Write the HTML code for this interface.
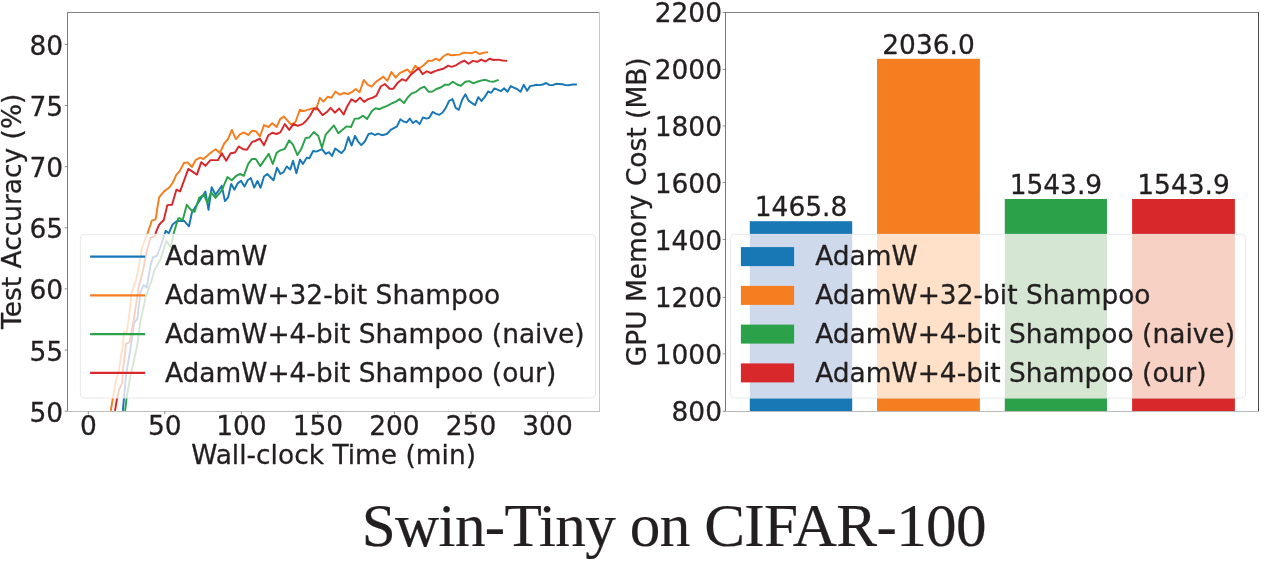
<!DOCTYPE html>
<html><head><meta charset="utf-8"><title>Swin-Tiny on CIFAR-100</title>
<style>
html,body{margin:0;padding:0;background:#fff;}
body{width:1269px;height:563px;overflow:hidden;}
svg{display:block;}
text{font-family:"DejaVu Sans","Liberation Sans",sans-serif;fill:#231f20;stroke:#231f20;stroke-width:0.3px;stroke-linejoin:round;}
.tk{font-size:26.45px;}
.lg{font-size:26.45px;}
.ttl{font-family:"Liberation Serif",serif;font-size:61.2px;fill:#231f20;stroke-width:0.2px;}
</style></head><body>
<svg width="1269" height="563" viewBox="0 0 1269 563">
<rect width="1269" height="563" fill="#fff"/>

<defs><clipPath id="c1"><rect x="67.7" y="12.4" width="531.8" height="398.8"/></clipPath></defs>
<g clip-path="url(#c1)" fill="none" stroke-width="1.95" stroke-linejoin="round" stroke-linecap="butt">
<path d="M122.8,410.8 L124.0,398.0 L125.9,376.5 L131.0,345.0 L134.1,322.9 L137.3,319.1 L140.4,292.6 L143.6,285.0 L146.7,287.6 L150.5,265.4 L153.0,257.2 L156.8,256.0 L160.6,246.5 L165.7,230.8 L168.8,233.3 L172.6,224.5 L177.0,221.1 L183.9,220.7 L189.0,226.3 L192.1,211.8 L197.2,204.2 L201.0,198.5 L205.4,191.6 L208.5,209.9 L211.7,187.2 L215.5,194.8 L221.8,185.9 L224.9,201.1 L228.1,197.3 L231.2,184.0 L231.3,184.0 L234.4,189.7 L237.6,183.4 L241.1,180.9 L244.5,186.6 L247.7,180.3 L250.8,178.0 L254.2,187.6 L257.5,180.9 L260.6,187.8 L264.0,176.5 L267.2,174.0 L273.5,180.3 L277.0,167.7 L280.4,174.0 L283.6,172.1 L286.7,166.4 L290.3,169.5 L293.0,160.7 L296.4,173.3 L300.0,159.5 L302.9,163.9 L306.9,157.6 L309.4,158.2 L313.1,151.0 L316.3,151.6 L322.0,149.1 L325.7,153.9 L328.9,152.2 L332.0,156.0 L335.2,148.5 L341.5,153.1 L344.6,149.7 L348.4,137.1 L351.6,145.6 L355.0,135.8 L357.9,141.3 L361.3,145.1 L364.8,141.5 L368.6,134.0 L371.8,133.3 L374.9,135.0 L378.1,133.7 L381.8,135.2 L386.9,134.0 L390.7,129.9 L397.0,126.4 L400.3,119.3 L403.5,121.5 L406.6,122.4 L409.8,118.6 L412.9,123.0 L416.1,120.8 L419.6,124.1 L423.0,117.4 L426.2,118.6 L429.3,117.7 L432.6,111.9 L435.8,113.6 L439.2,114.8 L442.4,112.7 L445.8,107.9 L449.0,101.0 L452.5,99.1 L455.7,107.9 L458.8,109.8 L462.2,99.7 L465.4,94.3 L468.5,100.6 L471.7,102.9 L475.1,105.1 L478.3,97.2 L481.4,101.0 L484.6,97.2 L488.1,91.5 L491.2,92.8 L494.4,88.4 L497.5,89.6 L500.9,91.2 L504.1,88.3 L507.5,91.8 L510.7,86.1 L513.8,87.7 L517.0,89.0 L520.5,91.8 L523.7,84.8 L527.1,90.8 L530.2,86.1 L533.4,85.5 L536.5,84.8 L539.7,85.1 L542.8,84.5 L546.2,83.0 L549.5,85.1 L552.9,85.1 L556.1,83.8 L559.2,84.0 L562.4,84.2 L565.5,85.1 L568.7,85.2 L572.5,84.5 L576.9,84.5" stroke="#1878b6"/>
<path d="M110.8,410.8 L112.9,398.0 L115.8,381.6 L119.0,369.0 L123.0,345.0 L123.8,332.3 L126.6,332.3 L129.1,316.6 L131.6,292.6 L136.0,280.0 L138.5,268.0 L142.3,246.5 L147.4,233.9 L151.8,220.7 L155.6,219.4 L159.1,197.3 L163.8,191.6 L168.8,187.8 L172.6,183.0 L176.4,174.6 L179.5,171.4 L183.9,163.0 L187.7,162.4 L191.9,167.0 L195.9,159.8 L200.1,157.6 L203.5,159.1 L211.0,152.5 L215.7,149.2 L219.8,153.0 L224.2,143.5 L228.0,139.1 L231.8,129.9 L235.9,139.1 L240.0,134.3 L243.8,132.4 L248.2,135.0 L252.0,130.8 L255.8,131.2 L259.9,136.5 L264.0,125.1 L268.4,127.0 L272.2,123.2 L276.6,127.0 L280.3,118.8 L283.9,116.6 L291.1,124.5 L295.5,122.0 L299.8,109.8 L303.9,111.1 L308.9,109.4 L313.3,108.2 L315.8,109.8 L319.9,97.8 L323.4,101.6 L327.6,96.8 L331.6,97.8 L335.4,91.5 L339.8,94.7 L344.0,93.0 L348.0,94.0 L351.8,92.2 L355.6,89.0 L359.6,92.2 L363.8,79.9 L367.5,84.6 L371.7,86.7 L375.7,82.1 L383.3,76.6 L387.3,80.8 L391.5,72.0 L395.7,77.7 L399.7,73.2 L407.3,69.5 L411.0,73.2 L415.2,65.7 L418.6,68.8 L423.0,65.7 L428.7,60.6 L431.9,60.9 L435.7,58.7 L439.5,60.5 L443.2,56.5 L447.4,54.0 L451.4,55.2 L459.6,54.6 L463.4,52.7 L467.8,52.9 L471.6,53.3 L475.4,51.7 L479.4,54.0 L483.6,52.7 L488.0,52.1" stroke="#f57e20"/>
<path d="M125.1,410.8 L126.6,398.0 L130.3,376.5 L137.3,345.0 L140.4,321.6 L145.5,297.7 L151.8,280.0 L154.3,270.5 L160.6,259.1 L166.3,240.8 L170.7,247.8 L173.8,232.7 L178.3,218.2 L179.1,218.1 L182.7,220.0 L186.8,204.8 L190.9,209.9 L194.6,211.8 L199.1,197.9 L204.1,194.8 L207.3,203.0 L211.0,192.2 L215.5,197.9 L221.8,190.3 L227.4,177.1 L231.8,180.3 L236.3,175.8 L240.0,174.0 L243.8,175.8 L248.2,163.9 L252.0,158.9 L255.8,158.9 L260.2,166.1 L268.7,153.9 L272.8,164.0 L276.6,152.9 L280.3,150.3 L284.8,148.8 L289.2,140.3 L293.0,144.7 L297.4,155.1 L301.2,149.1 L305.6,138.0 L309.3,137.5 L313.8,132.1 L318.2,135.8 L322.0,147.8 L325.7,134.6 L333.9,125.4 L338.3,133.3 L346.5,126.4 L351.0,127.0 L354.7,118.6 L358.5,118.6 L362.9,115.7 L367.1,119.1 L371.8,111.3 L375.5,108.2 L379.5,109.2 L383.3,107.3 L387.7,105.6 L391.5,103.5 L395.7,101.6 L399.7,99.1 L403.9,103.1 L407.9,97.2 L411.7,93.4 L416.1,91.8 L419.9,88.7 L424.3,86.7 L428.7,91.8 L432.5,91.5 L436.3,89.0 L440.7,87.5 L445.1,84.6 L448.9,84.8 L452.9,81.7 L457.1,84.5 L460.9,85.7 L465.3,81.7 L469.1,81.1 L473.5,83.3 L477.3,81.7 L481.7,80.4 L485.5,79.8 L489.9,81.4 L493.7,81.7 L498.7,79.8" stroke="#2ba24a"/>
<path d="M115.0,410.8 L117.1,398.0 L119.3,389.1 L122.2,382.8 L123.0,370.2 L125.9,345.0 L125.9,343.7 L129.7,342.4 L133.5,321.6 L137.3,296.4 L138.5,287.6 L143.0,270.5 L146.7,251.6 L150.5,237.7 L154.9,236.4 L156.2,231.4 L159.3,224.5 L163.8,220.0 L167.3,205.1 L172.0,204.8 L176.4,189.7 L180.1,191.4 L188.3,168.9 L196.9,174.6 L201.3,162.2 L205.4,165.8 L210.4,160.1 L218.0,160.1 L221.8,153.2 L226.2,160.7 L230.6,153.2 L235.0,152.5 L238.7,146.4 L243.1,149.2 L246.9,149.8 L251.9,142.2 L255.1,141.0 L259.9,138.7 L264.0,145.1 L268.4,135.2 L272.2,132.7 L276.6,134.0 L280.3,132.4 L284.8,124.1 L289.2,129.9 L293.6,123.9 L297.6,125.9 L302.6,124.1 L306.4,120.5 L310.2,115.5 L314.0,108.5 L317.1,108.2 L322.5,115.1 L326.6,112.3 L330.6,107.9 L334.8,112.7 L339.2,108.5 L343.6,114.5 L347.4,106.0 L351.5,99.3 L355.6,101.9 L360.0,97.6 L364.1,101.9 L368.2,99.1 L372.6,97.8 L376.4,95.6 L380.8,86.5 L384.8,84.0 L389.6,88.7 L393.4,88.7 L397.8,82.7 L402.0,79.2 L406.0,80.8 L410.4,75.1 L418.6,68.2 L422.6,74.1 L426.8,71.3 L431.0,73.0 L435.0,71.1 L439.4,69.8 L443.2,68.8 L448.2,65.7 L451.4,66.8 L455.8,65.3 L460.3,62.5 L464.3,60.6 L468.5,63.8 L472.9,60.9 L477.3,61.8 L481.1,59.6 L485.5,61.5 L489.5,58.7 L493.7,60.0 L498.1,59.6 L502.5,60.5 L507.2,60.9" stroke="#d8282b"/>
</g>
<rect x="67" y="12" width="533" height="1" fill="#828282"/><rect x="67" y="12" width="1" height="400" fill="#808080"/><rect x="599" y="12" width="1" height="400" fill="#c8c8c8"/><rect x="67" y="411" width="533" height="1" fill="#bebebe"/>
<line x1="64.7" x2="67.2" y1="411.2" y2="411.2" stroke="#444" stroke-width="0.6"/>
<text class="tk" x="63.2" y="421.6" text-anchor="end">50</text>
<line x1="64.7" x2="67.2" y1="350.1" y2="350.1" stroke="#444" stroke-width="0.6"/>
<text class="tk" x="63.2" y="360.5" text-anchor="end">55</text>
<line x1="64.7" x2="67.2" y1="288.9" y2="288.9" stroke="#444" stroke-width="0.6"/>
<text class="tk" x="63.2" y="299.3" text-anchor="end">60</text>
<line x1="64.7" x2="67.2" y1="227.8" y2="227.8" stroke="#444" stroke-width="0.6"/>
<text class="tk" x="63.2" y="238.2" text-anchor="end">65</text>
<line x1="64.7" x2="67.2" y1="166.7" y2="166.7" stroke="#444" stroke-width="0.6"/>
<text class="tk" x="63.2" y="177.1" text-anchor="end">70</text>
<line x1="64.7" x2="67.2" y1="105.5" y2="105.5" stroke="#444" stroke-width="0.6"/>
<text class="tk" x="63.2" y="115.9" text-anchor="end">75</text>
<line x1="64.7" x2="67.2" y1="44.4" y2="44.4" stroke="#444" stroke-width="0.6"/>
<text class="tk" x="63.2" y="54.8" text-anchor="end">80</text>
<line x1="88.3" x2="88.3" y1="411.7" y2="414.0" stroke="#333" stroke-width="0.6"/>
<text class="tk" x="88.3" y="435.45" text-anchor="middle">0</text>
<line x1="164.8" x2="164.8" y1="411.7" y2="414.0" stroke="#333" stroke-width="0.6"/>
<text class="tk" x="164.8" y="435.45" text-anchor="middle">50</text>
<line x1="241.4" x2="241.4" y1="411.7" y2="414.0" stroke="#333" stroke-width="0.6"/>
<text class="tk" x="241.4" y="435.45" text-anchor="middle">100</text>
<line x1="317.9" x2="317.9" y1="411.7" y2="414.0" stroke="#333" stroke-width="0.6"/>
<text class="tk" x="317.9" y="435.45" text-anchor="middle">150</text>
<line x1="394.4" x2="394.4" y1="411.7" y2="414.0" stroke="#333" stroke-width="0.6"/>
<text class="tk" x="394.4" y="435.45" text-anchor="middle">200</text>
<line x1="471.0" x2="471.0" y1="411.7" y2="414.0" stroke="#333" stroke-width="0.6"/>
<text class="tk" x="471.0" y="435.45" text-anchor="middle">250</text>
<line x1="547.5" x2="547.5" y1="411.7" y2="414.0" stroke="#333" stroke-width="0.6"/>
<text class="tk" x="547.5" y="435.45" text-anchor="middle">300</text>
<text class="tk" x="333.6" y="464.0" text-anchor="middle">Wall-clock Time (min)</text>
<text class="tk" transform="translate(20.9,211.3) rotate(-90)" text-anchor="middle">Test Accuracy (%)</text>
<clipPath id="lcline"><rect x="80.3" y="234.4" width="515.2" height="163.6" rx="4" ry="4"/></clipPath>
<rect x="80.3" y="234.4" width="515.2" height="163.6" rx="4" ry="4" fill="#fff" stroke="#e6e9e9" stroke-width="1"/>
<g clip-path="url(#lcline)"><g fill="none" stroke-width="1.9" stroke-linejoin="round"><path d="M122.8,410.8 L124.0,398.0 L125.9,376.5 L131.0,345.0 L134.1,322.9 L137.3,319.1 L140.4,292.6 L143.6,285.0 L146.7,287.6 L150.5,265.4 L153.0,257.2 L156.8,256.0 L160.6,246.5 L165.7,230.8 L168.8,233.3 L189.0,226.3" stroke="#cfd9ec"/><path d="M110.8,410.8 L112.9,398.0 L115.8,381.6 L119.0,369.0 L123.0,345.0 L123.8,332.3 L126.6,332.3 L129.1,316.6 L131.6,292.6 L136.0,280.0 L138.5,268.0 L142.3,246.5 L147.4,233.9" stroke="#ffe1c9"/><path d="M125.1,410.8 L126.6,398.0 L130.3,376.5 L137.3,345.0 L140.4,321.6 L145.5,297.7 L151.8,280.0 L154.3,270.5 L160.6,259.1 L166.3,240.8 L170.7,247.8 L173.8,232.7" stroke="#d5e7d3"/><path d="M115.0,410.8 L117.1,398.0 L119.3,389.1 L122.2,382.8 L123.0,370.2 L125.9,345.0 L125.9,343.7 L129.7,342.4 L133.5,321.6 L137.3,296.4 L138.5,287.6 L143.0,270.5 L146.7,251.6 L150.5,237.7 L154.9,236.4 L156.2,231.4" stroke="#f6d1c4"/></g></g>
<line x1="90.1" x2="145.1" y1="256.6" y2="256.6" stroke="#1878b6" stroke-width="2.15"/>
<text class="lg" x="164.9" y="265.4">AdamW</text>
<line x1="90.1" x2="145.1" y1="295.4" y2="295.4" stroke="#f57e20" stroke-width="2.15"/>
<text class="lg" x="164.9" y="304.2">AdamW+32-bit Shampoo</text>
<line x1="90.1" x2="145.1" y1="334.1" y2="334.1" stroke="#2ba24a" stroke-width="2.15"/>
<text class="lg" x="164.9" y="343.0">AdamW+4-bit Shampoo (naive)</text>
<line x1="90.1" x2="145.1" y1="372.9" y2="372.9" stroke="#d8282b" stroke-width="2.15"/>
<text class="lg" x="164.9" y="381.8">AdamW+4-bit Shampoo (our)</text>
<rect x="749.8" y="221.2" width="102.4" height="190.0" fill="#1878b6"/>
<text class="tk" x="801.0" y="216.0" text-anchor="middle">1465.8</text>
<rect x="877.0" y="58.8" width="102.9" height="352.4" fill="#f57e20"/>
<text class="tk" x="928.5" y="53.6" text-anchor="middle">2036.0</text>
<rect x="1004.8" y="199.0" width="102.2" height="212.2" fill="#2ba24a"/>
<text class="tk" x="1055.9" y="193.8" text-anchor="middle">1543.9</text>
<rect x="1132.1" y="199.0" width="102.8" height="212.2" fill="#d8282b"/>
<text class="tk" x="1183.5" y="193.8" text-anchor="middle">1543.9</text>
<rect x="725" y="12" width="534" height="1" fill="#828282"/><rect x="725" y="12" width="1" height="400" fill="#777"/><rect x="1258" y="12" width="1" height="400" fill="#484848"/><rect x="725" y="411" width="534" height="1" fill="#bbb"/>
<line x1="722.7" x2="725.2" y1="411.3" y2="411.3" stroke="#444" stroke-width="0.6"/>
<text class="tk" x="722.0" y="421.1" text-anchor="end">800</text>
<line x1="722.7" x2="725.2" y1="353.9" y2="353.9" stroke="#444" stroke-width="0.6"/>
<text class="tk" x="722.0" y="364.1" text-anchor="end">1000</text>
<line x1="722.7" x2="725.2" y1="297.4" y2="297.4" stroke="#444" stroke-width="0.6"/>
<text class="tk" x="722.0" y="307.2" text-anchor="end">1200</text>
<line x1="722.7" x2="725.2" y1="239.4" y2="239.4" stroke="#444" stroke-width="0.6"/>
<text class="tk" x="722.0" y="250.2" text-anchor="end">1400</text>
<line x1="722.7" x2="725.2" y1="182.4" y2="182.4" stroke="#444" stroke-width="0.6"/>
<text class="tk" x="722.0" y="193.2" text-anchor="end">1600</text>
<line x1="722.7" x2="725.2" y1="125.9" y2="125.9" stroke="#444" stroke-width="0.6"/>
<text class="tk" x="722.0" y="136.2" text-anchor="end">1800</text>
<line x1="722.7" x2="725.2" y1="69.4" y2="69.4" stroke="#444" stroke-width="0.6"/>
<text class="tk" x="722.0" y="79.3" text-anchor="end">2000</text>
<line x1="722.7" x2="725.2" y1="12.5" y2="12.5" stroke="#444" stroke-width="0.6"/>
<text class="tk" x="722.0" y="22.3" text-anchor="end">2200</text>
<text class="tk" transform="translate(645.9,211.8) rotate(-90)" text-anchor="middle">GPU Memory Cost (MB)</text>
<clipPath id="lcpatch"><rect x="730.6" y="234.4" width="514.9999999999999" height="163.6" rx="4" ry="4"/></clipPath>
<rect x="730.6" y="234.4" width="514.9999999999999" height="163.6" rx="4" ry="4" fill="#fff" stroke="#e6e9e9" stroke-width="1"/>
<g clip-path="url(#lcpatch)"><rect x="749.8" y="232.4" width="102.4" height="167.6" fill="#cfd9ec"/><rect x="877.0" y="232.4" width="102.9" height="167.6" fill="#ffe1c9"/><rect x="1004.8" y="232.4" width="102.2" height="167.6" fill="#d5e7d3"/><rect x="1132.1" y="232.4" width="102.8" height="167.6" fill="#f6d1c4"/></g>
<rect x="740.9" y="247.1" width="53.2" height="19" fill="#1878b6"/>
<text class="lg" x="815.2" y="265.4">AdamW</text>
<rect x="740.9" y="285.9" width="53.2" height="19" fill="#f57e20"/>
<text class="lg" x="815.2" y="304.2">AdamW+32-bit Shampoo</text>
<rect x="740.9" y="324.6" width="53.2" height="19" fill="#2ba24a"/>
<text class="lg" x="815.2" y="343.0">AdamW+4-bit Shampoo (naive)</text>
<rect x="740.9" y="363.4" width="53.2" height="19" fill="#d8282b"/>
<text class="lg" x="815.2" y="381.8">AdamW+4-bit Shampoo (our)</text>
<text class="ttl" x="361.7" y="545.6" textLength="624.9" lengthAdjust="spacing">Swin-Tiny on CIFAR-100</text>
</svg></body></html>
